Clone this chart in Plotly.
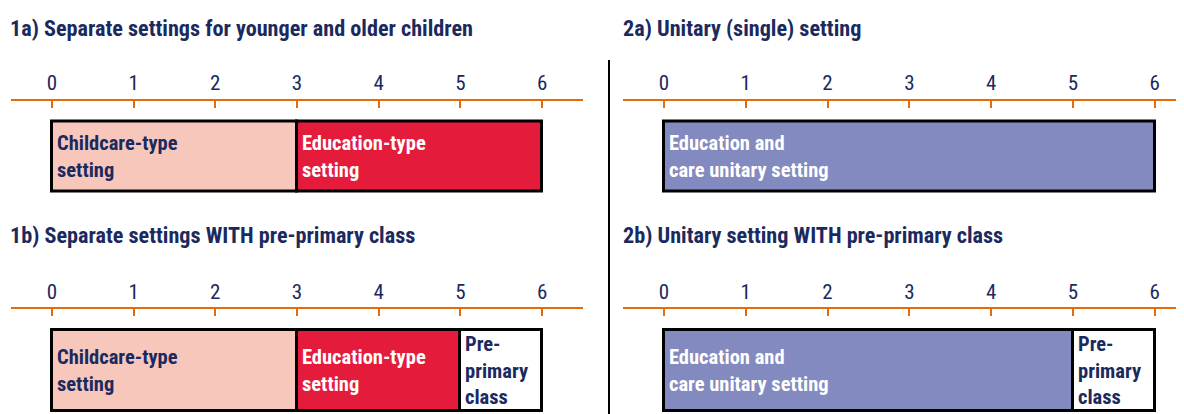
import plotly.graph_objects as go

# ---------------- data ----------------
ticks = [0, 1, 2, 3, 4, 5, 6]

titles = [
    "1a) Separate settings for younger and older children",
    "1b) Separate settings WITH pre-primary class",
    "2a) Unitary (single) setting",
    "2b) Unitary setting WITH pre-primary class",
]

labels_1a = ["Childcare-type<br>setting", "Education-type<br>setting"]
start_1a = [0, 3]
end_1a = [3, 6]

labels_1b = ["Childcare-type<br>setting", "Education-type<br>setting", "Pre-<br>primary<br>class"]
start_1b = [0, 3, 5]
end_1b = [3, 5, 6]

labels_2a = ["Education and<br>care unitary setting"]
start_2a = [0]
end_2a = [6]

labels_2b = ["Education and<br>care unitary setting", "Pre-<br>primary<br>class"]
start_2b = [0, 5]
end_2b = [5, 6]

# ---------------- styles ----------------
PAGE_W, PAGE_H = 1184, 414
OFF = 8                      # default body margin of the html page
W, H = PAGE_W - OFF, PAGE_H - OFF
NAVY = "#1B2A5E"
ORANGE = "#E46C0A"
PINK = "#F8C7BB"
RED = "#E41B3B"
PURPLE = "#838AC0"
WHITE = "#FFFFFF"
FONT = "Roboto Condensed, Liberation Sans Narrow, Arial Narrow, Liberation Sans, sans-serif"

colors_1a = [PINK, RED]
text_1a = [NAVY, WHITE]
colors_1b = [PINK, RED, WHITE]
text_1b = [NAVY, WHITE, NAVY]
colors_2a = [PURPLE]
text_2a = [WHITE]
colors_2b = [PURPLE, WHITE]
text_2b = [WHITE, NAVY]


def px_x(p):
    return max(0.0, min(1.0, (p - OFF) / W))


def px_y(p):
    return max(0.0, min(1.0, 1 - (p - OFF) / H))


panels = [
    (labels_1a, start_1a, end_1a, colors_1a, text_1a, (11, 583), [-0.5, 6.5], (100.5, 212.5), [-0.5, 0.5], 70 / 112),
    (labels_1b, start_1b, end_1b, colors_1b, text_1b, (11, 583), [-0.5, 6.5], (309, 414), [-44 / 105, 61 / 105], 81 / 105),
    (labels_2a, start_2a, end_2a, colors_2a, text_2a, (623, 1184), [-0.5, 6.357], (100.5, 212.5), [-0.5, 0.5], 70 / 112),
    (labels_2b, start_2b, end_2b, colors_2b, text_2b, (623, 1184), [-0.5, 6.357], (309, 414), [-44 / 105, 61 / 105], 81 / 105),
]

fig = go.Figure()
layout_axes = {}
annotations = []

for i, (labs, st, en, cols, tcols, xd, xr, yd, yr, bw) in enumerate(panels, start=1):
    xa = "x" if i == 1 else f"x{i}"
    ya = "y" if i == 1 else f"y{i}"
    fig.add_trace(go.Bar(
        orientation="h",
        y=[0] * len(st),
        x=[e - s for s, e in zip(st, en)],
        base=st,
        width=bw,
        marker=dict(color=cols, line=dict(color="#000000", width=3)),
        hoverinfo="skip",
        xaxis=xa, yaxis=ya,
        showlegend=False,
    ))
    for lab, s, tc in zip(labs, st, tcols):
        annotations.append(dict(
            text=lab, xref=xa, yref=ya, x=s, y=0,
            xanchor="left", yanchor="middle", align="left",
            xshift=3, showarrow=False,
            font=dict(family=FONT, size=20.5, color=tc, weight="bold"),
        ))
    xkey = "xaxis" if i == 1 else f"xaxis{i}"
    ykey = "yaxis" if i == 1 else f"yaxis{i}"
    layout_axes[xkey] = dict(
        domain=[px_x(xd[0]), px_x(xd[1])],
        range=xr,
        anchor=ya,
        side="top",
        tickmode="array",
        tickvals=ticks,
        ticktext=[str(t) for t in ticks],
        ticks="inside",
        ticklen=7,
        tickwidth=2,
        tickcolor=ORANGE,
        showline=True,
        linecolor=ORANGE,
        linewidth=2,
        showgrid=False,
        zeroline=False,
        tickfont=dict(family=FONT, size=21, color=NAVY),
        fixedrange=True,
    )
    layout_axes[ykey] = dict(
        domain=[px_y(yd[1]), px_y(yd[0])],
        range=yr,
        anchor=xa,
        visible=False,
        fixedrange=True,
    )

title_pos = [(8, 28), (8, 235), (621, 28), (621, 235)]
for t, (x, y) in zip(titles, title_pos):
    annotations.append(dict(
        text=t, xref="paper", yref="paper", x=px_x(x), y=px_y(y),
        xanchor="left", yanchor="middle", showarrow=False,
        font=dict(family=FONT, size=22.2, color=NAVY, weight="bold"),
    ))

shapes = [dict(type="line", xref="paper", yref="paper",
               x0=px_x(609), x1=px_x(609), y0=px_y(60), y1=0,
               line=dict(color="#000000", width=2))]

fig.update_layout(
    width=W, height=H,
    margin=dict(l=0, r=0, t=0, b=0),
    paper_bgcolor="white",
    plot_bgcolor="white",
    annotations=annotations,
    shapes=shapes,
    bargap=0,
    **layout_axes,
)

fig.write_html("out.html")
